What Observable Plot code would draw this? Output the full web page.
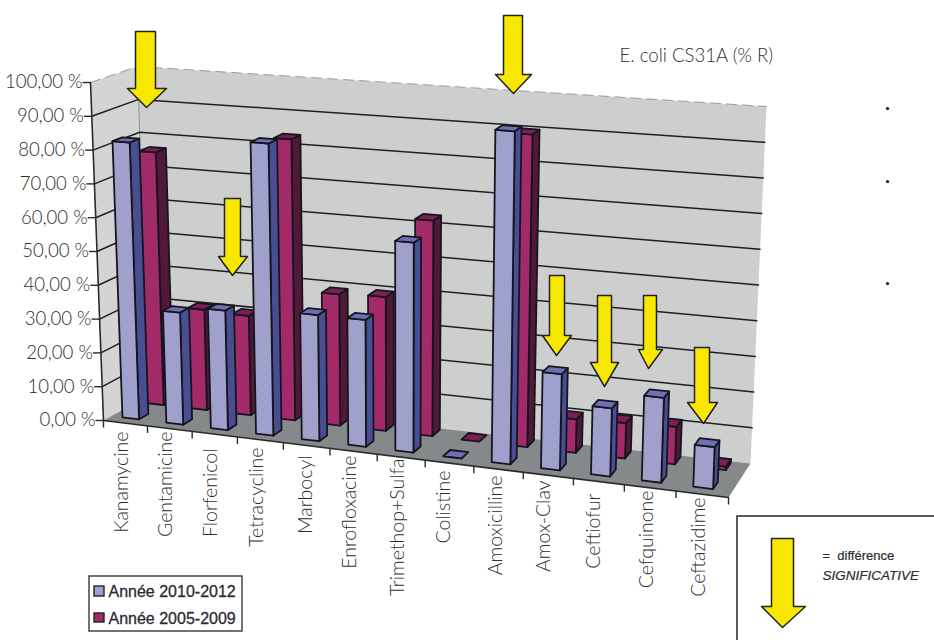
<!DOCTYPE html>
<html>
<head>
<meta charset="utf-8">
<script src="https://cdn.jsdelivr.net/npm/d3@7"></script>
<script src="https://cdn.jsdelivr.net/npm/@observablehq/plot@0.6"></script>
<style>
  html, body { margin: 0; padding: 0; background: #fff; }
  svg { display: block; }
</style>
</head>
<body>
<div id="chart"></div>
<script>
// Resistance rates, percent of strains, per antibiotic
const categories = ["Kanamycine", "Gentamicine", "Florfenicol", "Tetracycline", "Marbocyl", "Enrofloxacine",
  "Trimethop+Sulfa", "Colistine", "Amoxicilline", "Amox-Clav", "Ceftiofur", "Cefquinone", "Ceftazidime"];
const recent = [82, 33, 35, 85, 36.5, 36.5, 60, 0, 94, 27, 19, 23.5, 11.5];
const earlier = [76, 30, 29.5, 83, 38.5, 39, 62.5, 0, 89.5, 9.5, 10, 10.5, 1];
const seriesNames = ["Année 2010-2012", "Année 2005-2009"];
const percentTicks = [0, 10, 20, 30, 40, 50, 60, 70, 80, 90, 100];
const percentLabels = percentTicks.map((p) => `${p},00 %`);

// Corners of the 3D box on the page: [category end, value end, depth end]
const corners = {
  "000": [103, 420], "010": [90, 82], "100": [728, 497], "110": [742, 131],
  "001": [148, 395], "011": [137, 66], "101": [750, 463], "111": [766, 106]
};
const widen = 1.1; // columns grow toward the right-hand side of the box
const palette = {
  wall: "#cdcfce", side: "#d3d4d3", floor: "#85898a",
  recentFront: "#a0a0cc", recentSide: "#484e91", recentTop: "#6d71b3",
  earlierFront: "#a32a68", earlierSide: "#521838", earlierTop: "#7c1f52",
  arrow: "#f8e800", paper: "#ffffff"
};
const faceNames = Object.keys(palette);
const outline = "#15151f";
const textColor = "#2e2e2e";

// Projects a category position, a percentage and a depth onto the page
function project(c, v, d) {
  const t = c / categories.length;
  const u = t / (t + widen * (1 - t));
  const w = v / 100;
  const out = [0, 1].map((k) => {
    let sum = 0;
    for (const a of [0, 1]) for (const b of [0, 1]) for (const e of [0, 1]) {
      sum += corners[`${a}${b}${e}`][k] * (a ? u : 1 - u) * (b ? w : 1 - w) * (e ? d : 1 - d);
    }
    return sum;
  });
  return out;
}

const polygons = [];
let polygonId = 0;
function addPolygon(face, points) {
  const id = polygonId++;
  points.forEach(([x, y]) => polygons.push({id, face, x, y}));
}

// Walls and floor
const room = polygonRows();
function polygonRows() {
  const n = categories.length;
  addPolygon("wall", [project(0, 0, 1), project(0, 100, 1), project(n, 100, 1), project(n, 0, 1)]);
  addPolygon("side", [project(0, 0, 0), project(0, 100, 0), project(0, 100, 1), project(0, 0, 1)]);
  addPolygon("floor", [project(0, 0, 0), project(n, 0, 0), project(n, 0, 1), project(0, 0, 1)]);
  return polygons.splice(0);
}

// One column: visible front, right side and top
function addColumn(i, value, d0, d1, series) {
  const u0 = i + 0.25, u1 = i + 0.63;
  if (value > 0) {
    addPolygon(`${series}Side`, [project(u1, 0, d0), project(u1, value, d0), project(u1, value, d1), project(u1, 0, d1)]);
    addPolygon(`${series}Front`, [project(u0, 0, d0), project(u0, value, d0), project(u1, value, d0), project(u1, 0, d0)]);
  }
  addPolygon(`${series}Top`, [project(u0, value, d0), project(u1, value, d0), project(u1, value, d1), project(u0, value, d1)]);
}
earlier.forEach((v, i) => addColumn(i, v, 0.74, 0.96, "earlier"));
recent.forEach((v, i) => addColumn(i, v, 0.18, 0.39, "recent"));
const columns = polygons.splice(0);

// Gridlines run along the side wall and then the back wall
const n = categories.length;
const grid = percentTicks.filter((p) => p > 0 && p < 100).flatMap((p) =>
  [project(0, p, 0), project(0, p, 1), project(n, p, 1)].map(([x, y]) => ({p, x, y})));
const rim = [project(0, 100, 0), project(0, 100, 1), project(n, 100, 1)].map(([x, y]) => ({x, y}));
const backEdge = [project(0, 100, 1), project(0, 78, 1)].map(([x, y]) => ({x, y}));
const axisEdge = [project(0, 100, 0), project(0, 0, 0), project(n, 0, 0)].map(([x, y]) => ({x, y}));

const valueTicks = percentTicks.map((p, i) => {
  const [x, y] = project(0, p, 0);
  return {x1: x - 8, x2: x, y, label: percentLabels[i]};
});
const categoryTicks = d3.range(n + 1).map((i) => {
  const [x, y] = project(i, 0, 0);
  return {x, y1: y, y2: y + 7};
});

// Rotated category names: horizontal centre and upper end
const labelX = [121, 165, 210, 256, 305, 349, 397, 443, 495, 543, 593, 646, 698];
const labelTop = [431, 431, 448, 447, 455, 455, 458, 470, 475, 480, 493, 490, 497];
const categoryLabels = categories.map((name, i) => ({name, x: labelX[i], y: labelTop[i]}));

// Arrows flagging a significant difference: shaft edges, head wings, top, head start, tip
const arrowSpecs = [
  [135, 155, 127, 166, 31, 88, 146, 107],
  [224, 240, 218, 247, 198, 256, 232, 275],
  [503, 522, 495, 531, 15, 74, 513, 93],
  [549, 564, 542, 571, 275, 335, 556, 355],
  [597, 611, 590, 618, 295, 362, 604, 386],
  [643, 656, 638, 662, 295, 349, 648, 368],
  [694, 709, 687, 717, 347, 402, 703, 423],
  [771, 793, 761, 805, 538, 606, 782, 627]
];
const arrows = arrowSpecs.flatMap(([a, b, w0, w1, top, head, tx, ty], id) =>
  [[a, top], [b, top], [b, head], [w1, head], [tx, ty], [w0, head], [a, head]]
    .map(([x, y]) => ({id, x, y})));

// Legend box and its swatches
const legendBox = [{x1: 89, x2: 242, y1: 576, y2: 631}];
const swatches = [
  {x1: 94, x2: 104, y1: 586, y2: 596, face: "recentFront"},
  {x1: 94, x2: 104, y1: 613, y2: 622, face: "earlierFront"}
];
const legendLabels = seriesNames.map((name, i) => ({name, x: 108, y: [591, 618][i]}));
const keyBox = [{x1: 737, x2: 960, y1: 516, y2: 660}];
const bullets = [{x: 887, y: 108}, {x: 887, y: 181}, {x: 887, y: 283}];

const polygonMark = (rows, strokeColor, strokeWidth) => Plot.line(rows, {
  x: "x", y: "y", z: "id", fill: "face", stroke: strokeColor, strokeWidth,
  curve: "linear-closed", strokeLinejoin: "round"
});

const chart = Plot.plot({
  width: 934,
  height: 640,
  margin: 0,
  x: {domain: [0, 934], range: [0, 934], axis: null},
  y: {domain: [0, 640], range: [0, 640], axis: null},
  color: {domain: faceNames, range: faceNames.map((k) => palette[k])},
  style: {background: "#fff", overflow: "hidden"},
  marks: [
    polygonMark(room, "none", 0),
    Plot.line(backEdge, {x: "x", y: "y", stroke: "#8d8f90", strokeWidth: 1}),
    Plot.line(rim, {x: "x", y: "y", stroke: "#9a9da0", strokeWidth: 1, strokeDasharray: "10 6"}),
    Plot.line(grid, {x: "x", y: "y", z: "p", stroke: "#1f1f1f", strokeWidth: 1.5}),
    Plot.line(axisEdge, {x: "x", y: "y", stroke: "#2a2a2a", strokeWidth: 1.6}),
    Plot.link(valueTicks, {x1: "x1", x2: "x2", y1: "y", y2: "y", stroke: "#2a2a2a", strokeWidth: 1.4}),
    Plot.link(categoryTicks, {x1: "x", x2: "x", y1: "y1", y2: "y2", stroke: "#2a2a2a", strokeWidth: 1.4}),
    polygonMark(columns, outline, 1.8),
    Plot.text(valueTicks, {x: "x1", y: "y", text: "label", textAnchor: "end",
      fontFamily: "Lato", fontWeight: 300, fontSize: 18.6, fill: textColor}),
    Plot.text(categoryLabels, {x: "x", y: "y", text: "name", rotate: -90, textAnchor: "end",
      fontFamily: "Lato", fontWeight: 300, fontSize: 19.5, fill: textColor}),
    Plot.text(["E. coli CS31A (% R)"], {x: () => 619, y: () => 56, text: (d) => d, textAnchor: "start",
      fontFamily: "Lato", fontWeight: 300, fontSize: 18.6, fill: textColor}),
    Plot.line(arrows, {x: "x", y: "y", z: "id", fill: palette.arrow, stroke: "#222", strokeWidth: 1.5, curve: "linear-closed"}),
    Plot.rect(legendBox, {x1: "x1", x2: "x2", y1: "y1", y2: "y2", fill: "#fff", stroke: "#444", strokeWidth: 1.5}),
    Plot.rect(swatches, {x1: "x1", x2: "x2", y1: "y1", y2: "y2", fill: "face", stroke: "#222", strokeWidth: 1.4}),
    Plot.text(legendLabels, {x: "x", y: "y", text: "name", textAnchor: "start",
      fontFamily: "Liberation Sans", fontSize: 16, fill: "#2b2b33", stroke: "#2b2b33", strokeWidth: 0.3}),
    Plot.rect(keyBox, {x1: "x1", x2: "x2", y1: "y1", y2: "y2", fill: "none", stroke: "#333", strokeWidth: 1.6}),
    Plot.text(["=  différence"], {x: () => 822, y: () => 555, text: (d) => d, textAnchor: "start",
      fontFamily: "Liberation Sans", fontSize: 13, fill: "#2b2b33", stroke: "#2b2b33", strokeWidth: 0.2}),
    Plot.text(["SIGNIFICATIVE"], {x: () => 822, y: () => 575, text: (d) => d, textAnchor: "start",
      fontFamily: "Liberation Sans", fontStyle: "italic", fontSize: 13.5, fill: "#2b2b33", stroke: "#2b2b33", strokeWidth: 0.2}),
    Plot.dot(bullets, {x: "x", y: "y", r: 1.6, fill: "#111"})
  ]
});
document.getElementById("chart").append(chart);
</script>
</body>
</html>
